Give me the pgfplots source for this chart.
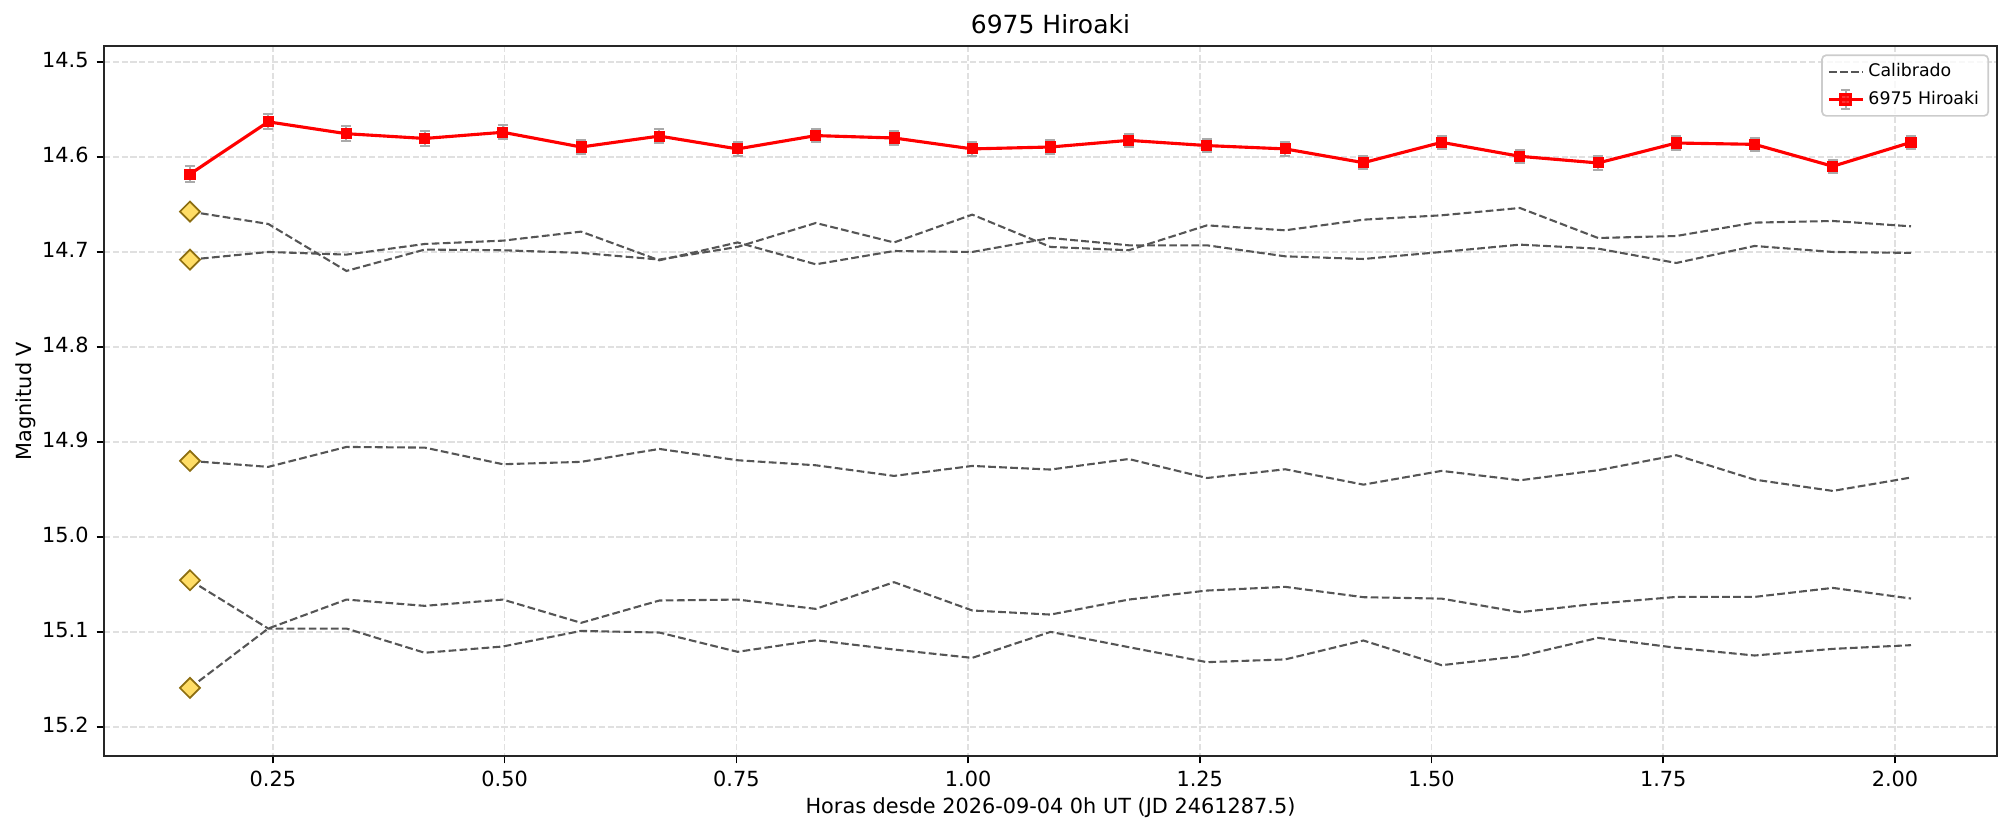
\documentclass[border=0pt]{standalone}
\usepackage{fontspec}
\setmainfont{DejaVu Sans}
\usepackage{pgfplots}
\usepackage{pgfplotstable}
\pgfplotsset{compat=1.18}

\definecolor{calgray}{HTML}{555555}
\definecolor{gridgray}{HTML}{E0E0E0}
\definecolor{errgray}{HTML}{AAAAAA}
\definecolor{diafill}{HTML}{FFDD66}
\definecolor{diaedge}{HTML}{8C6D10}

% 6975 Hiroaki: time (h), magnitude, error
\pgfplotstableread{
x      y       e
0.1605 14.6180 0.0085
0.2449 14.5630 0.0080
0.3293 14.5755 0.0080
0.4137 14.5805 0.0075
0.4981 14.5740 0.0075
0.5825 14.5895 0.0075
0.6669 14.5780 0.0075
0.7513 14.5915 0.0075
0.8357 14.5775 0.0070
0.9201 14.5800 0.0070
1.0045 14.5915 0.0070
1.0889 14.5895 0.0070
1.1733 14.5825 0.0070
1.2577 14.5880 0.0070
1.3421 14.5915 0.0070
1.4265 14.6060 0.0070
1.5109 14.5846 0.0070
1.5953 14.5993 0.0070
1.6797 14.6063 0.0070
1.7641 14.5853 0.0070
1.8485 14.5867 0.0070
1.9329 14.6098 0.0070
2.0173 14.5846 0.0065
}\target

% calibrated comparison stars
\pgfplotstableread{
x      a       b       c       d       f
0.1605 14.6575 14.7081 14.9200 15.0456 15.1590
0.2449 14.6705 14.7000 14.9263 15.0965 15.0965
0.3293 14.7200 14.7028 14.9053 15.0965 15.0660
0.4137 14.6975 14.6916 14.9060 15.1220 15.0726
0.4981 14.6982 14.6881 14.9235 15.1154 15.0660
0.5825 14.7010 14.6786 14.9210 15.0990 15.0905
0.6669 14.7080 14.7088 14.9074 15.1007 15.0670
0.7513 14.6947 14.6900 14.9193 15.1210 15.0660
0.8357 14.6695 14.7130 14.9246 15.1088 15.0758
0.9201 14.6900 14.6990 14.9358 15.1186 15.0477
1.0045 14.6607 14.7000 14.9253 15.1274 15.0775
1.0889 14.6947 14.6853 14.9291 15.1000 15.0818
1.1733 14.6982 14.6930 14.9180 15.1161 15.0660
1.2577 14.6720 14.6930 14.9380 15.1319 15.0565
1.3421 14.6772 14.7046 14.9288 15.1290 15.0526
1.4265 14.6660 14.7074 14.9450 15.1091 15.0635
1.5109 14.6614 14.7000 14.9305 15.1351 15.0650
1.5953 14.6537 14.6923 14.9404 15.1256 15.0793
1.6797 14.6853 14.6965 14.9298 15.1063 15.0702
1.7641 14.6832 14.7116 14.9140 15.1168 15.0632
1.8485 14.6691 14.6937 14.9397 15.1249 15.0632
1.9329 14.6674 14.7000 14.9516 15.1179 15.0537
2.0173 14.6730 14.7010 14.9375 15.1140 15.0649
}\calib

% reference magnitudes of the comparison stars (first frame)
\pgfplotstableread{
x      y
0.1605 14.6575
0.1605 14.7081
0.1605 14.9200
0.1605 15.0456
0.1605 15.1590
}\refmag

\pgfplotsset{
  calline/.style={calgray, line width=1bp, dash pattern=on 3.7bp off 1.6bp, forget plot},
}

\begin{document}
\begin{tikzpicture}
\begin{axis}[
  scale only axis,
  width=908.6bp, height=340.8bp,
  xmin=0.0677, xmax=2.1101,
  ymin=14.4832, ymax=15.2308,
  y dir=reverse,
  xtick={0.25,0.5,0.75,1.0,1.25,1.5,1.75,2.0},
  ytick={14.5,14.6,14.7,14.8,14.9,15.0,15.1,15.2},
  xticklabel={\pgfmathprintnumber[fixed,fixed zerofill,precision=2]{\tick}},
  yticklabel={\pgfmathprintnumber[fixed,fixed zerofill,precision=1]{\tick}},
  /pgf/number format/assume math mode=true,
  tick align=outside,
  xtick pos=left, ytick pos=left,
  major tick length=3.5bp,
  every tick/.style={black, line width=0.8bp},
  axis line style={line width=0.8bp, black!85},
  tick label style={font=\fontsize{10bp}{12bp}\selectfont},
  xticklabel style={anchor=base, inner sep=0pt, yshift=-11.2bp},
  yticklabel style={anchor=mid east, inner sep=0pt, xshift=-3.7bp},
  grid=major,
  major grid style={gridgray, line width=0.8bp, dash pattern=on 2.96bp off 1.28bp},
  title={6975 Hiroaki},
  every axis title shift=0pt,
  title style={at={(axis description cs:0.5,1.0176)}, anchor=base, inner sep=0pt,
    font=\fontsize{12bp}{14bp}\selectfont},
  xlabel={Horas desde 2026-09-04 0h UT (JD 2461287.5)},
  ylabel={Magnitud V},
  xlabel style={at={(axis description cs:0.5,-0.0804)}, anchor=base, inner sep=0pt,
    font=\fontsize{10bp}{12bp}\selectfont},
  ylabel style={at={(axis description cs:-0.0383,0.5)}, rotate=0, anchor=base, inner sep=0pt,
    font=\fontsize{10bp}{12bp}\selectfont},
  legend style={at={(axis description cs:1,1)}, anchor=north east,
    xshift=-3.8bp, yshift=-4bp, draw=black!20, line width=0.8bp, rounded corners=2bp,
    fill=white, fill opacity=0.8, text opacity=1, draw opacity=1,
    font=\fontsize{8.33bp}{10bp}\selectfont,
    inner xsep=2.5bp, inner ysep=2bp, row sep=1.5bp},
  legend cell align=left,
]

\addplot[calgray, line width=1bp, dash pattern=on 3.7bp off 1.6bp,
  legend image code/.code={
    \draw[calgray, line width=1bp, dash pattern=on 3.7bp off 1.6bp, sharp corners]
      (0bp,0bp) -- (16.3bp,0bp);
  }] table[x=x, y=a] {\calib};
\addlegendentry{Calibrado}
\addplot[calline] table[x=x, y=b] {\calib};
\addplot[calline] table[x=x, y=c] {\calib};
\addplot[calline] table[x=x, y=d] {\calib};
\addplot[calline] table[x=x, y=f] {\calib};

\addplot[only marks, mark=square*, mark size=3.4bp, forget plot,
  mark options={rotate=45, solid, fill=diafill, draw=diaedge, line width=0.8bp}]
  table[x=x, y=y] {\refmag};

\addplot[red, line width=1.5bp, mark=square*, mark size=2.4bp,
  mark options={solid, fill=red, draw=red, line width=0.5bp},
  legend image code/.code={
    \begin{scope}[sharp corners]
    \draw[errgray, line width=1bp, solid] (8.15bp,-4.5bp) -- (8.15bp,4.5bp);
    \draw[errgray, line width=1bp, solid] (5.9bp,-4.5bp) -- (10.4bp,-4.5bp);
    \draw[errgray, line width=1bp, solid] (5.9bp,4.5bp) -- (10.4bp,4.5bp);
    \draw[red, line width=1.5bp, solid] (0bp,0bp) -- (16.3bp,0bp);
    \fill[red] (5.75bp,-2.4bp) rectangle (10.55bp,2.4bp);
    \end{scope}
  },
  error bars/.cd, y dir=both, y explicit,
  error bar style={errgray, line width=1bp},
  error mark options={rotate=90, errgray, mark size=2.4bp, line width=1bp},
  ] table[x=x, y=y, y error=e] {\target};
\addlegendentry{6975 Hiroaki}

\end{axis}
\path (current axis.south west) ++(-49.9bp,-37.4bp);
\path (current axis.north east) ++(7.2bp,22.1bp);
\end{tikzpicture}
\end{document}
